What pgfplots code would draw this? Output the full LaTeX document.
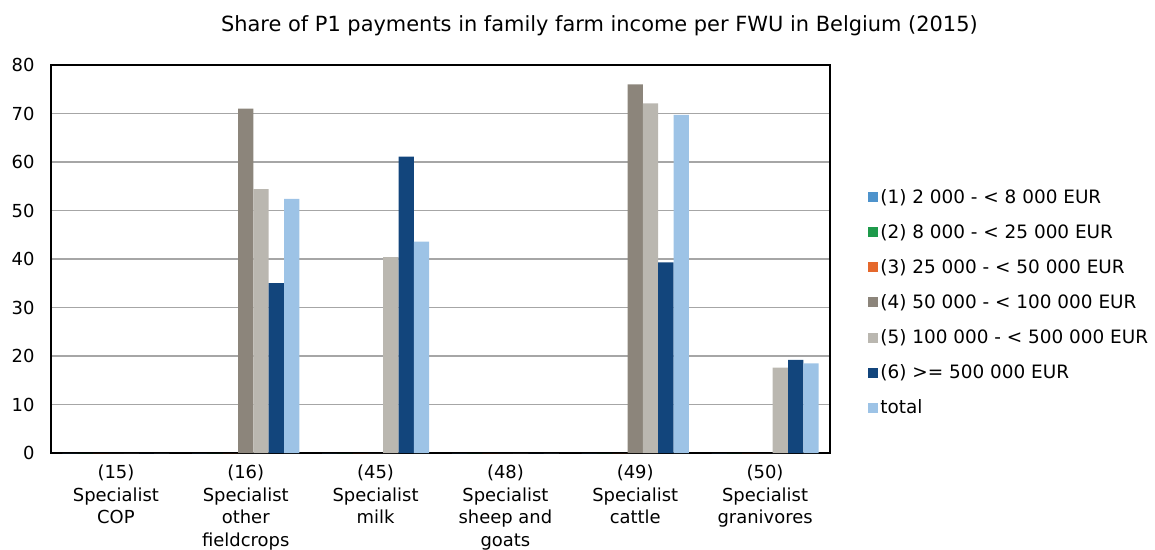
\documentclass[border=0pt]{standalone}
\usepackage{fontspec}
\setmainfont{DejaVu Sans}
\usepackage{pgfplots}
\pgfplotsset{compat=1.18}

\definecolor{cOne}{HTML}{4E93CC}
\definecolor{cTwo}{HTML}{1E9A4B}
\definecolor{cThree}{HTML}{E5682C}
\definecolor{cFour}{HTML}{8C857B}
\definecolor{cFive}{HTML}{BAB7B0}
\definecolor{cSix}{HTML}{12457C}
\definecolor{cTot}{HTML}{9DC3E6}
\definecolor{gridc}{HTML}{A6A6A6}

\begin{document}
\begin{tikzpicture}
\useasboundingbox (-51bp,-97bp) rectangle (1104bp,453bp);
\begin{axis}[
   at={(0,0)}, anchor=south west,
   scale only axis,
   width=779bp, height=388bp,
   font=\fontsize{18}{23}\selectfont,
   ybar=0pt, bar width=15.3bp,
   xmin=-0.5, xmax=5.5,
   ymin=0, ymax=80,
   ytick={0,10,...,80},
   xtick={0,1,2,3,4,5},
   xticklabels={{(15)\\Specialist\\COP},{(16)\\Specialist\\other\\fieldcrops},{(45)\\Specialist\\milk},{(48)\\Specialist\\sheep and\\goats},{(49)\\Specialist\\cattle},{(50)\\Specialist\\granivores}},
   xticklabel style={align=center, yshift=-8bp},
   yticklabel style={xshift=-13bp},
   /pgf/number format/assume math mode=true,
   major tick length=0pt,
   ymajorgrids, grid style={gridc, line width=1.1bp},
   axis line style={black, line width=1.1bp},
   title={Share of P1 payments in family farm income per FWU in Belgium (2015)},
   title style={at={(0.704,1)}, anchor=south, yshift=20bp, font=\fontsize{21}{24}\selectfont},
   legend style={at={(1.049,0.388)}, anchor=west, draw=none, fill=none,
      inner sep=0pt, row sep=15.6bp,
      font=\fontsize{18.5}{22}\selectfont,
      nodes={inner sep=2bp}},
   legend cell align=left,
   legend image code/.code={\fill[#1] (0bp,-5bp) rectangle (10bp,5bp);},
]
\addplot[fill=cOne, draw=none] coordinates {(0,0) (1,0) (2,0) (3,0) (4,0) (5,0)};
\addplot[fill=cTwo, draw=none] coordinates {(0,0) (1,0) (2,0) (3,0) (4,0) (5,0)};
\addplot[fill=cThree, draw=none] coordinates {(0,0) (1,0) (2,0) (3,0) (4,0) (5,0)};
\addplot[fill=cFour, draw=none] coordinates {(0,0) (1,71.0) (2,0) (3,0) (4,76.0) (5,0)};
\addplot[fill=cFive, draw=none] coordinates {(0,0) (1,54.4) (2,40.4) (3,0) (4,72.1) (5,17.6)};
\addplot[fill=cSix, draw=none] coordinates {(0,0) (1,35.0) (2,61.1) (3,0) (4,39.3) (5,19.2)};
\addplot[fill=cTot, draw=none] coordinates {(0,0) (1,52.4) (2,43.6) (3,0) (4,69.7) (5,18.5)};
\legend{{(1) 2 000 - < 8 000 EUR},{(2) 8 000 - < 25 000 EUR},{(3) 25 000 - < 50 000 EUR},{(4) 50 000 - < 100 000 EUR},{(5) 100 000 - < 500 000 EUR},{(6) >= 500 000 EUR},{total}}
\end{axis}
\end{tikzpicture}
\end{document}
